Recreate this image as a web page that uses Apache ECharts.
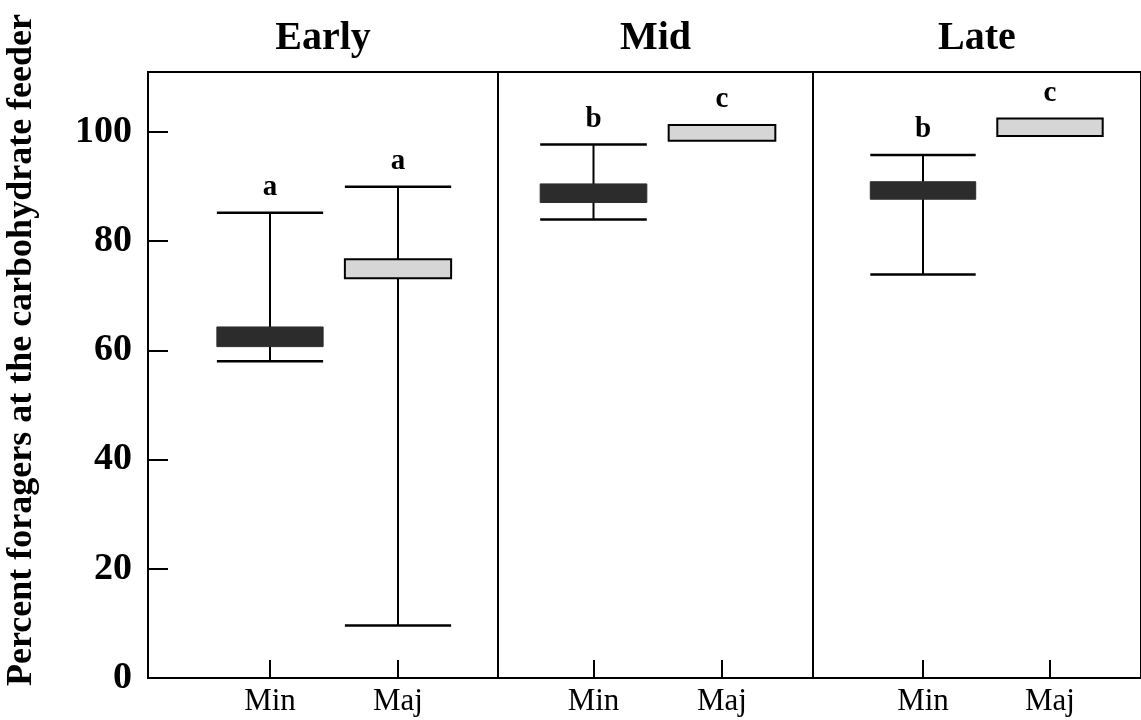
<!DOCTYPE html>
<html>
<head>
<meta charset="utf-8">
<script src="https://cdn.jsdelivr.net/npm/echarts@6/dist/echarts.min.js"></script>
<style>
html,body{margin:0;padding:0;background:#fff;}
#chart{width:1141px;height:720px;}
</style>
</head>
<body>
<div id="chart"></div>
<script>
// ---- data ----
const periods = ['Early', 'Mid', 'Late'];
const categories = ['Min', 'Maj'];
const yTicks = [0, 20, 40, 60, 80, 100];
// Minor workers
const minLow  = [58.0, 84.0, 73.9];
const minQ1   = [60.7, 87.1, 87.7];
const minQ3   = [64.3, 90.5, 90.9];
const minHigh = [85.2, 97.7, 95.8];
const minLetters = ['a', 'b', 'b'];
// Major workers
const majLow  = [9.6, null, null];
const majQ1   = [73.2, 98.4, 99.3];
const majQ3   = [76.7, 101.3, 102.5];
const majHigh = [90.0, null, null];
const majLetters = ['a', 'c', 'c'];

const yAxisTitle = 'Percent foragers at the carbohydrate feeder';

// ---- layout ----
const FONT = '"Liberation Serif", "Times New Roman", "DejaVu Serif", serif';
const TOP = 72, BOTTOM = 42;
const YMAX = 111;
const frames = [[148, 350], [498, 315], [813, 328]];
const dataGrids = [[206, 256], [529.25, 257], [859.5, 254]];

const chart = echarts.init(document.getElementById('chart'), null, {renderer: 'canvas'});

const grid = [];
const xAxis = [];
const yAxis = [];
const series = [];
const title = [];

frames.forEach((f, i) => {
  grid.push({left: f[0], width: f[1], top: TOP, bottom: BOTTOM, show: true,
    borderColor: '#000', borderWidth: 2, backgroundColor: 'transparent'});
  xAxis.push({type: 'value', gridIndex: i, show: false, min: 0, max: 1});
  yAxis.push({
    type: 'value', gridIndex: i, min: 0, max: YMAX, interval: 20,
    show: i === 0,
    axisLine: {show: true, lineStyle: {color: '#000', width: 2}},
    axisTick: {show: true, inside: true, length: 20, lineStyle: {color: '#000', width: 2}},
    axisLabel: {
      show: true, margin: 16, color: '#000', fontFamily: FONT, fontWeight: 'bold', fontSize: 38,
      formatter: v => (yTicks.indexOf(v) >= 0 ? String(v) : '')
    },
    splitLine: {show: false}
  });
  title.push({text: periods[i], left: f[0] + f[1] / 2, top: 19, textAlign: 'center', padding: 0,
    textStyle: {fontFamily: FONT, fontWeight: 'bold', fontSize: 40, color: '#000'}});
});

dataGrids.forEach((g, i) => {
  const gi = i + 3;
  grid.push({left: g[0], width: g[1], top: TOP, bottom: BOTTOM, show: false});
  xAxis.push({
    type: 'category', gridIndex: gi, data: categories, boundaryGap: true,
    axisLine: {show: false},
    axisTick: {show: true, inside: true, length: 18, alignWithLabel: true, lineStyle: {color: '#000', width: 2}},
    axisLabel: {margin: 8, color: '#000', fontFamily: FONT, fontSize: 31}
  });
  yAxis.push({type: 'value', gridIndex: gi, min: 0, max: YMAX, show: false, splitLine: {show: false}});

  const data = [
    [0, minLow[i], minQ1[i], minQ3[i], minHigh[i]],
    [1, majLow[i], majQ1[i], majQ3[i], majHigh[i]]
  ].map(r => r.map(v => (v === null ? '-' : v)));
  const letters = [minLetters[i], majLetters[i]];

  series.push({
    type: 'custom', xAxisIndex: gi, yAxisIndex: gi, clip: false,
    encode: {x: 0, y: [1, 2, 3, 4]},
    data: data,
    renderItem: function (params, api) {
      const x = api.value(0);
      const low = api.value(1), q1 = api.value(2), q3 = api.value(3), high = api.value(4);
      const band = api.size([1, 0])[0];
      const w = band * 0.83;
      const children = [];
      const dark = params.dataIndex === 0;
      const cx = api.coord([x, q1])[0];
      if (!isNaN(low) && !isNaN(high)) {
        const pl = api.coord([x, low]), ph = api.coord([x, high]);
        children.push({type: 'line', shape: {x1: cx, y1: pl[1], x2: cx, y2: ph[1]},
          style: {stroke: '#000', lineWidth: 2}});
        children.push({type: 'line', shape: {x1: cx - w / 2, y1: pl[1], x2: cx + w / 2, y2: pl[1]},
          style: {stroke: '#000', lineWidth: 2.5}});
        children.push({type: 'line', shape: {x1: cx - w / 2, y1: ph[1], x2: cx + w / 2, y2: ph[1]},
          style: {stroke: '#000', lineWidth: 2.5}});
      }
      const p1 = api.coord([x, q1]), p3 = api.coord([x, q3]);
      children.push({type: 'rect',
        shape: {x: cx - w / 2, y: p3[1], width: w, height: p1[1] - p3[1]},
        style: dark ? {fill: '#2c2c2c', stroke: '#2c2c2c', lineWidth: 1}
                    : {fill: '#d6d6d6', stroke: '#000', lineWidth: 2}});
      const topY = !isNaN(high) ? api.coord([x, high])[1] : p3[1];
      children.push({type: 'text', x: cx, y: topY - 25,
        style: {text: letters[params.dataIndex], fill: '#000', font: 'bold 29px ' + FONT,
          align: 'center', verticalAlign: 'middle'}});
      return {type: 'group', children: children};
    }
  });
});

chart.setOption({
  animation: false,
  backgroundColor: '#fff',
  title: title,
  grid: grid,
  xAxis: xAxis,
  yAxis: yAxis,
  series: series,
  graphic: [{
    type: 'text', x: 22, y: 350, rotation: Math.PI / 2,
    style: {text: yAxisTitle, fill: '#000', font: 'bold 36px ' + FONT, align: 'center', verticalAlign: 'middle'}
  }]
});
</script>
</body>
</html>
